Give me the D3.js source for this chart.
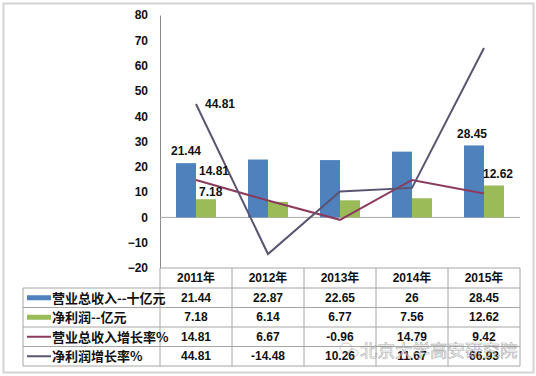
<!DOCTYPE html>
<html>
<head>
<meta charset="utf-8">
<script src="https://cdn.jsdelivr.net/npm/d3@7"></script>
<style>
  body { margin: 0; background: #fff; }
  text { font-family: "Liberation Sans", Arial, "Noto Sans CJK SC", sans-serif; font-weight: bold; }
</style>
</head>
<body>
<div id="chart"></div>
<script>
// data
var years = ["2011年", "2012年", "2013年", "2014年", "2015年"];
var revenue = [21.44, 22.87, 22.65, 26, 28.45];
var profit = [7.18, 6.14, 6.77, 7.56, 12.62];
var revGrowth = [14.81, 6.67, -0.96, 14.79, 9.42];
var profitGrowth = [44.81, -14.48, 10.26, 11.67, 66.93];
var seriesNames = ["营业总收入--十亿元", "净利润--亿元", "营业总收入增长率%", "净利润增长率%"];
var yTicks = [80, 70, 60, 50, 40, 30, 20, 10, 0, -10, -20];

var width = 536, height = 376;
var plotLeft = 160, plotRight = 520, plotTop = 15, plotBottom = 268;
var colors = ["#4f81bd", "#9bbb59", "#8c3b5e", "#5b5470"];

var svg = d3.select("#chart").append("svg")
  .attr("width", width)
  .attr("height", height);

// outer frame
svg.append("rect")
  .attr("x", 3.5).attr("y", 3.5)
  .attr("width", 530).attr("height", 369)
  .attr("fill", "none").attr("stroke", "#d4d4d4").attr("stroke-width", 2);

var x = d3.scaleBand().domain(years).range([plotLeft, plotRight]);
var y = d3.scaleLinear().domain([-20, 80]).range([plotBottom, plotTop]);
var barW = 20;
function cx(i) { return x(years[i]) + x.bandwidth() / 2; }

// y axis: labels only, plain line
var yAxis = svg.append("g")
  .attr("transform", "translate(" + plotLeft + ",0)")
  .call(d3.axisLeft(y).tickValues(yTicks).tickSize(0).tickPadding(12));
yAxis.select(".domain").attr("stroke", "#8c8c8c");
yAxis.selectAll("text").attr("font-size", 12).attr("fill", "#111");

// zero line
svg.append("line")
  .attr("x1", plotLeft).attr("x2", plotRight)
  .attr("y1", y(0)).attr("y2", y(0))
  .attr("stroke", "#a6a6a6");

// bars
[revenue, profit].forEach(function(vals, k) {
  svg.append("g").selectAll("rect")
    .data(vals)
    .enter().append("rect")
      .attr("x", function(d, i) { return cx(i) - barW + k * barW; })
      .attr("y", function(d) { return y(d); })
      .attr("width", barW)
      .attr("height", function(d) { return y(0) - y(d); })
      .attr("fill", colors[k]);
});

// lines
var line = d3.line()
  .x(function(d, i) { return cx(i); })
  .y(function(d) { return y(d); });
[revGrowth, profitGrowth].forEach(function(vals, k) {
  svg.append("path")
    .datum(vals)
    .attr("d", line)
    .attr("fill", "none")
    .attr("stroke", colors[k + 2])
    .attr("stroke-width", 2);
});

// data labels
var labels = [
  {x: cx(0) - barW / 2, y: y(revenue[0]) - 8, t: revenue[0], a: "middle"},
  {x: cx(0) + 3, y: y(profit[0]) - 3, t: profit[0], a: "start"},
  {x: cx(0) + 3, y: y(revGrowth[0]) - 5, t: revGrowth[0], a: "start"},
  {x: cx(0) + 9, y: y(profitGrowth[0]) + 4, t: profitGrowth[0], a: "start"},
  {x: cx(4) - barW / 2 - 2, y: y(revenue[4]) - 7, t: revenue[4], a: "middle"},
  {x: cx(4) + barW / 2 + 4, y: y(profit[4]) - 7, t: profit[4], a: "middle"}
];
svg.append("g").selectAll("text")
  .data(labels)
  .enter().append("text")
    .attr("x", function(d) { return d.x; })
    .attr("y", function(d) { return d.y; })
    .attr("text-anchor", function(d) { return d.a; })
    .attr("font-size", 12)
    .attr("fill", "#111")
    .text(function(d) { return d.t.toFixed(2); });

// data table
var rowTop = 288, rowH = 19.5, legendLeft = 23;
var rows = [revenue, profit, revGrowth, profitGrowth];
var grid = svg.append("g").attr("stroke", "#a6a6a6").attr("stroke-width", 1);
grid.append("line").attr("x1", plotLeft).attr("x2", plotRight).attr("y1", plotBottom).attr("y2", plotBottom);
x.domain().forEach(function(yr) {
  grid.append("line").attr("x1", x(yr)).attr("x2", x(yr)).attr("y1", plotBottom).attr("y2", rowTop + rowH * 4);
});
grid.append("line").attr("x1", plotRight).attr("x2", plotRight).attr("y1", plotBottom).attr("y2", rowTop + rowH * 4);
grid.append("line").attr("x1", legendLeft).attr("x2", legendLeft).attr("y1", rowTop).attr("y2", rowTop + rowH * 4);
for (var r = 0; r <= 4; r++) {
  grid.append("line").attr("x1", legendLeft).attr("x2", plotRight)
    .attr("y1", rowTop + r * rowH).attr("y2", rowTop + r * rowH);
}

svg.append("g").selectAll("text")
  .data(years)
  .enter().append("text")
    .attr("x", function(d) { return x(d) + x.bandwidth() / 2; })
    .attr("y", (plotBottom + rowTop) / 2 + 4)
    .attr("text-anchor", "middle")
    .attr("font-size", 12)
    .attr("fill", "#111")
    .text(function(d) { return d; });

rows.forEach(function(vals, r) {
  var ry = rowTop + r * rowH + rowH / 2;
  svg.append("g").selectAll("text")
    .data(vals)
    .enter().append("text")
      .attr("x", function(d, i) { return cx(i); })
      .attr("y", ry + 4)
      .attr("text-anchor", "middle")
      .attr("font-size", 12)
      .attr("fill", "#111")
      .text(function(d) { return d; });

  // legend key
  if (r < 2) {
    svg.append("rect")
      .attr("x", legendLeft + 4).attr("y", ry - 2.5)
      .attr("width", 24).attr("height", 5)
      .attr("fill", colors[r]);
  } else {
    svg.append("line")
      .attr("x1", legendLeft + 4).attr("x2", legendLeft + 28)
      .attr("y1", ry).attr("y2", ry)
      .attr("stroke", colors[r]).attr("stroke-width", 2);
  }
  svg.append("text")
    .attr("x", legendLeft + 29)
    .attr("y", ry + 5)
    .attr("font-size", 13)
    .attr("fill", "#111")
    .style("font-family", "'Noto Sans CJK SC', sans-serif")
    .text(seriesNames[r]);
});

// watermark
var wm = svg.append("g").attr("opacity", 0.6);
wm.append("ellipse").attr("cx", 346).attr("cy", 348).attr("rx", 6).attr("ry", 5)
  .attr("fill", "none").attr("stroke", "#999").attr("stroke-width", 0.8);
wm.append("ellipse").attr("cx", 353).attr("cy", 353).attr("rx", 5).attr("ry", 4)
  .attr("fill", "none").attr("stroke", "#999").attr("stroke-width", 0.8);
wm.append("text")
  .attr("x", 360).attr("y", 357)
  .attr("font-size", 17.5)
  .attr("fill", "#fff")
  .attr("stroke", "#777")
  .attr("stroke-width", 0.6)
  .style("font-family", "'Noto Sans CJK SC', sans-serif")
  .style("font-weight", "normal")
  .text("北京大学高安研究院");
</script>
</body>
</html>
